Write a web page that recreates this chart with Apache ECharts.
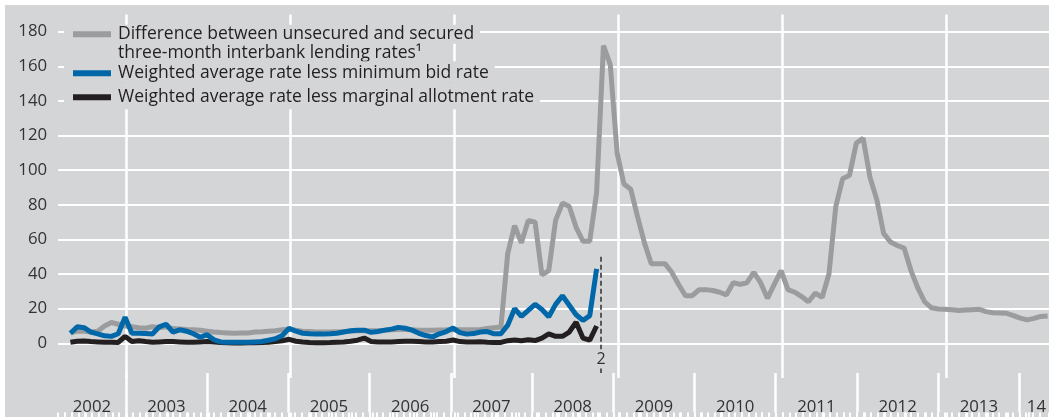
<!DOCTYPE html>
<html>
<head>
<meta charset="utf-8">
<script src="https://cdn.jsdelivr.net/npm/echarts@6/dist/echarts.min.js"></script>
<style>
html,body{margin:0;padding:0;background:#ffffff;}
#c{position:absolute;left:5px;top:5px;width:1044px;height:412px;background:#d4d5d7;}
</style>
</head>
<body>
<div id="c"></div>
<script>
// Month index: 0 = January 2002. Monthly values start in April 2002 (index 3).
const dataStartMonth = 3;
const pointOffset = 0.8;

const grayName = 'Difference between unsecured and secured three-month interbank lending rates¹';
const blueName = 'Weighted average rate less minimum bid rate';
const blackName = 'Weighted average rate less marginal allotment rate';

// Apr 2002 .. Mar 2014
const grayValues = [
  6.0, 7.0, 7.0, 6.5, 7.0, 10.0, 12.0, 11.0, 10.0,
  9.6, 9.0, 8.7, 9.6, 9.0, 9.5, 8.5, 8.3, 8.0, 7.8, 7.5, 7.0,
  6.5, 6.2, 6.0, 5.8, 6.0, 6.0, 6.5, 6.7, 7.0, 7.3, 7.8, 8.1,
  7.5, 7.0, 6.8, 6.5, 6.5, 6.5, 6.6, 6.8, 7.0, 7.2, 7.3, 7.2,
  7.3, 7.5, 7.8, 8.0, 8.0, 7.8, 7.5, 7.5, 7.5, 7.7, 7.8, 8.0,
  7.8, 7.8, 7.8, 8.0, 8.5, 9.0, 9.4, 52, 68, 58, 71, 70,
  39.5, 42, 71, 81, 79, 67, 59, 59, 87, 172, 161, 110,
  92, 89, 73, 58, 46, 46, 46, 41, 34, 27.5, 27.5, 31,
  31, 30.5, 29.5, 28, 35, 34, 35, 41, 35, 26, 34, 42,
  31, 29.5, 27, 24, 29, 26.5, 40, 79, 95, 97, 115.5, 118.5,
  96, 83, 63.5, 58.5, 56.5, 55, 42, 32, 24, 20.5, 19.8, 19.6,
  19.4, 19.0, 19.2, 19.4, 19.6, 18.3, 17.7, 17.5, 17.3, 16.0, 14.5, 13.5,
  14.4, 15.5, 15.8
];

// Apr 2002 .. Sep 2008
const blueValues = [
  5.8, 9.5, 9.0, 6.5, 5.4, 4.3, 4.0, 5.5, 15,
  5.8, 5.8, 5.6, 5.4, 9.5, 11, 6.5, 7.8, 7.0, 5.5, 3.5, 5.0,
  2.0, 0.8, 0.6, 0.6, 0.6, 0.6, 0.8, 1.0, 1.8, 2.6, 4.5, 8.7,
  7.0, 5.8, 5.5, 5.3, 5.3, 5.5, 5.8, 6.5, 7.2, 7.6, 7.6, 6.3,
  6.8, 7.6, 8.2, 9.2, 8.7, 7.6, 5.8, 4.5, 3.7, 5.5, 6.8, 8.8,
  6.2, 5.3, 5.6, 6.5, 6.8, 5.5, 5.5, 10.5, 20, 15.5, 19, 22.5,
  19.5, 15.3, 22.5, 27.5, 22, 16.5, 13.2, 16, 43
];

// Apr 2002 .. Sep 2008
const blackValues = [
  0.6, 1.2, 1.3, 1.0, 0.8, 0.6, 0.6, 0.5, 4.0,
  1.0, 1.5, 1.0, 0.6, 0.8, 1.0, 1.0, 0.8, 0.6, 0.6, 0.8, 1.0,
  0.8, 0.5, 0.3, 0.2, 0.2, 0.3, 0.3, 0.4, 0.6, 1.0, 1.5, 2.3,
  1.2, 0.8, 0.5, 0.3, 0.3, 0.4, 0.6, 0.8, 1.2, 1.8, 3.0, 1.0,
  0.8, 0.8, 0.8, 1.0, 1.2, 1.2, 1.0, 0.8, 0.8, 1.0, 1.2, 1.9,
  1.0, 0.8, 0.8, 0.9, 0.6, 0.4, 0.5, 1.5, 1.9, 1.5, 2.0, 1.6,
  3.0, 5.4, 4.0, 4.0, 6.5, 12.2, 3.0, 1.8, 10
];

// Footnote 2 marker (mid-October 2008)
const noteMonth = 81.45;
const noteLabel = '2';

const yearLabels = ['2002','2003','2004','2005','2006','2007','2008','2009','2010','2011','2012','2013','14'];
const yearLabelMonths = [7, 18, 30, 42, 54, 66, 78, 90, 102, 114, 126, 138, 146.5];

const axisMin = 2, axisMax = 147;   // 1 Mar 2002 .. 1 Apr 2014
const yMin = -20, yMax = 190, yStep = 20;

const BG = '#d4d5d7';
const GRAY = '#9b9c9e';
const BLUE = '#0068a8';
const BLACK = '#231f20';
const TXT = '#333333';
const FONT = 'Open Sans';

const toPoints = vals => vals.map((v, i) => [dataStartMonth + i + pointOffset, v]);

// half-month category positions for tick/label axes
const tickCats = [];
for (let m = axisMin; m <= axisMax + 1e-9; m += 0.5) tickCats.push(String(m));
const mAt = i => axisMin + i * 0.5;
const isMonth = i => Number.isInteger(mAt(i));
const isQuarter = i => isMonth(i) && mAt(i) % 3 === 0;
const isYear = i => isMonth(i) && mAt(i) % 12 === 0;
const isGridYear = i => isMonth(i) && mAt(i) % 24 === 12;
const isLabel = i => yearLabelMonths.indexOf(mAt(i)) >= 0;

const gridL = 53.1, gridR = 0;

const option = {
  animation: false,
  backgroundColor: BG,
  textStyle: { fontFamily: FONT },
  grid: [
    { left: gridL, right: gridR, top: 9.39, bottom: 39.08 },
    { left: gridL, right: gridR, top: 368, bottom: 4.5 },
    { left: gridL, right: gridR, top: 368, bottom: 4.5 }
  ],
  xAxis: [
    { gridIndex: 0, type: 'value', min: axisMin, max: axisMax, show: false },
    { gridIndex: 0, type: 'category', data: tickCats, boundaryGap: false, position: 'top',
      axisLine: { show: false }, axisTick: { show: false }, axisLabel: { show: false },
      splitLine: { show: true, interval: isGridYear, lineStyle: { color: '#ffffff', width: 2.5 } } },
    { gridIndex: 1, type: 'category', data: tickCats, boundaryGap: false, position: 'top',
      axisLine: { show: false },
      axisTick: { show: true, inside: true, length: 10, interval: isMonth, lineStyle: { color: '#ffffff', width: 2 } },
      axisLabel: { show: true, inside: true, interval: isLabel, margin: 26,
        formatter: (v, i) => { const k = yearLabelMonths.indexOf(mAt(i)); return k >= 0 ? yearLabels[k] : ''; },
        fontFamily: FONT, fontSize: 16.8, color: TXT },
      splitLine: { show: false } },
    { gridIndex: 1, type: 'category', data: tickCats, boundaryGap: false, position: 'bottom',
      axisLine: { show: false },
      axisTick: { show: true, inside: true, length: 39.5, interval: isYear, lineStyle: { color: '#ffffff', width: 2.5 } },
      axisLabel: { show: false }, splitLine: { show: false } },
    { gridIndex: 2, type: 'category', data: tickCats, boundaryGap: false, position: 'top',
      axisLine: { show: false },
      axisTick: { show: true, inside: true, length: 15, interval: isQuarter, lineStyle: { color: '#ffffff', width: 2 } },
      axisLabel: { show: false }, splitLine: { show: false } }
  ],
  yAxis: [
    { gridIndex: 0, type: 'value', min: yMin, max: yMax, interval: yStep,
      axisLine: { show: false }, axisTick: { show: false },
      axisLabel: { show: true, margin: 11, fontFamily: FONT, fontSize: 16.8, color: TXT,
        showMinLabel: false, showMaxLabel: false,
        formatter: v => (v < 0 || v > 180) ? '' : String(v) },
      splitLine: { show: true, showMinLine: false, showMaxLine: false, lineStyle: { color: '#ffffff', width: 2 } } },
    { gridIndex: 1, type: 'value', show: false, min: 0, max: 1 },
    { gridIndex: 2, type: 'value', show: false, min: 0, max: 1 }
  ],
  legend: [
    { data: [{ name: grayName, icon: 'rect', itemStyle: { color: GRAY } }],
      left: 68, top: 19.8, padding: 0, itemWidth: 38, itemHeight: 6, selectedMode: false, z: 5,
      formatter: () => '{a|Difference between unsecured and secured}\n{a|three-month interbank lending rates¹}',
      textStyle: { padding: [19, 0, 0, 0],
        rich: { a: { fontFamily: FONT, fontSize: 17.5, color: BLACK, lineHeight: 19, height: 19,
                     backgroundColor: BG, padding: [0, 6, 0, 2] } } } },
    { data: [{ name: blueName, icon: 'rect', itemStyle: { color: BLUE } }],
      left: 68, top: 56.3, padding: 0, itemWidth: 38, itemHeight: 6, selectedMode: false, z: 5,
      textStyle: { fontFamily: FONT, fontSize: 17.5, color: BLACK, lineHeight: 24,
                   backgroundColor: BG, padding: [0, 6, 0, 2] } },
    { data: [{ name: blackName, icon: 'rect', itemStyle: { color: BLACK } }],
      left: 68, top: 80.3, padding: 0, itemWidth: 38, itemHeight: 6, selectedMode: false, z: 5,
      textStyle: { fontFamily: FONT, fontSize: 17.5, color: BLACK, lineHeight: 24,
                   backgroundColor: BG, padding: [0, 6, 0, 2] } }
  ],
  graphic: [
    { type: 'rect', left: 59, top: 17, shape: { width: 58, height: 88 }, style: { fill: BG }, z: 3, silent: true }
  ],
  series: [
    { name: grayName, type: 'line', xAxisIndex: 0, yAxisIndex: 0, data: toPoints(grayValues),
      symbol: 'none', showSymbol: false, z: 2,
      lineStyle: { color: GRAY, width: 5 }, itemStyle: { color: GRAY } },
    { name: blackName, type: 'line', xAxisIndex: 0, yAxisIndex: 0, data: toPoints(blackValues),
      symbol: 'none', showSymbol: false, z: 3,
      lineStyle: { color: BLACK, width: 5 }, itemStyle: { color: BLACK } },
    { name: blueName, type: 'line', xAxisIndex: 0, yAxisIndex: 0, data: toPoints(blueValues),
      symbol: 'none', showSymbol: false, z: 4,
      lineStyle: { color: BLUE, width: 5 }, itemStyle: { color: BLUE },
      markLine: {
        silent: true, symbol: ['none', 'none'], animation: false,
        lineStyle: { color: '#58595b', width: 2, type: [5, 3] },
        label: { show: false },
        data: [
          [ { coord: [noteMonth, 50], label: { show: true, position: 'end', formatter: noteLabel, distance: 2,
                fontFamily: FONT, fontSize: 16, color: TXT } },
            { coord: [noteMonth, -3.5] } ],
          [ { coord: [noteMonth, -14.6] }, { coord: [noteMonth, -17.1] } ]
        ]
      } }
  ]
};

const chart = echarts.init(document.getElementById('c'));
chart.setOption(option);
</script>
</body>
</html>
